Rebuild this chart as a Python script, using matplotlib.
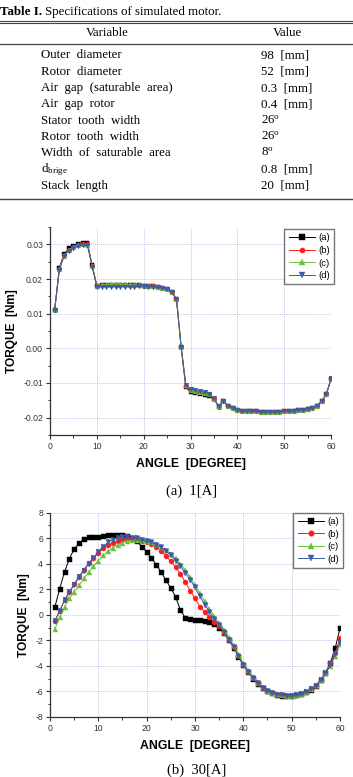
import numpy as np
import matplotlib
matplotlib.use("Agg")
import matplotlib.pyplot as plt
from matplotlib.ticker import MultipleLocator, FormatStrFormatter

plt.rcParams['axes.unicode_minus'] = False
plt.rcParams['mathtext.default'] = 'regular'

# ---- table data ----
table_title = "Specifications of simulated motor."
variables = ["Outer  diameter", "Rotor  diameter", "Air  gap  (saturable  area)",
             "Air  gap  rotor", "Stator  tooth  width", "Rotor  tooth  width",
             "Width  of  saturable  area", r"d$_{brige}$", "Stack  length"]
values = ["98  [mm]", "52  [mm]", "0.3  [mm]", "0.4  [mm]", r"26$^{o}$", r"26$^{o}$",
          r"8$^{o}$", "0.8  [mm]", "20  [mm]"]

# ---- torque curves ----
angle = np.arange(1, 61)
labels = ["(a)", "(b)", "(c)", "(d)"]

# 1[A]
t1_a = [0.0112, 0.0233, 0.0271, 0.0288, 0.0296, 0.0302, 0.0305, 0.0303, 0.0239, 0.0181,
        0.0182, 0.0182, 0.0183, 0.0183, 0.0183, 0.0183, 0.0183, 0.0182, 0.0182, 0.0181,
        0.0180, 0.0179, 0.0177, 0.0175, 0.0171, 0.0163, 0.0143, 0.0003, -0.0112, -0.0125,
        -0.0128, -0.0131, -0.0134, -0.0138, -0.0146, -0.0168, -0.0152, -0.0166, -0.0173, -0.0177,
        -0.0180, -0.0181, -0.0182, -0.0182, -0.0183, -0.0183, -0.0183, -0.0183, -0.0183, -0.0182,
        -0.0181, -0.0180, -0.0179, -0.0177, -0.0175, -0.0172, -0.0166, -0.0153, -0.0133, -0.0088]
t1_b = [0.0111, 0.0230, 0.0268, 0.0284, 0.0293, 0.0299, 0.0302, 0.0300, 0.0237, 0.0180,
        0.0182, 0.0183, 0.0184, 0.0184, 0.0184, 0.0184, 0.0183, 0.0183, 0.0182, 0.0181,
        0.0180, 0.0179, 0.0177, 0.0175, 0.0171, 0.0163, 0.0143, 0.0004, -0.0108, -0.0120,
        -0.0123, -0.0126, -0.0129, -0.0133, -0.0145, -0.0168, -0.0152, -0.0166, -0.0173, -0.0177,
        -0.0180, -0.0181, -0.0182, -0.0182, -0.0183, -0.0183, -0.0183, -0.0183, -0.0183, -0.0182,
        -0.0181, -0.0180, -0.0179, -0.0177, -0.0175, -0.0172, -0.0166, -0.0153, -0.0133, -0.0088]
t1_c = [0.0111, 0.0229, 0.0266, 0.0283, 0.0292, 0.0298, 0.0301, 0.0299, 0.0237, 0.0181,
        0.0183, 0.0184, 0.0185, 0.0186, 0.0186, 0.0185, 0.0184, 0.0183, 0.0183, 0.0182,
        0.0181, 0.0179, 0.0177, 0.0175, 0.0171, 0.0163, 0.0143, 0.0005, -0.0107, -0.0119,
        -0.0122, -0.0125, -0.0128, -0.0132, -0.0145, -0.0167, -0.0151, -0.0166, -0.0173, -0.0177,
        -0.0180, -0.0181, -0.0182, -0.0182, -0.0183, -0.0183, -0.0183, -0.0183, -0.0183, -0.0182,
        -0.0181, -0.0180, -0.0179, -0.0177, -0.0175, -0.0172, -0.0166, -0.0153, -0.0133, -0.0088]
t1_d = [0.0110, 0.0227, 0.0265, 0.0281, 0.0290, 0.0295, 0.0298, 0.0297, 0.0236, 0.0178,
        0.0178, 0.0178, 0.0178, 0.0178, 0.0178, 0.0178, 0.0178, 0.0178, 0.0179, 0.0179,
        0.0178, 0.0177, 0.0176, 0.0174, 0.0170, 0.0162, 0.0142, 0.0005, -0.0106, -0.0118,
        -0.0121, -0.0124, -0.0127, -0.0131, -0.0144, -0.0167, -0.0151, -0.0166, -0.0173, -0.0177,
        -0.0180, -0.0181, -0.0182, -0.0182, -0.0183, -0.0183, -0.0183, -0.0183, -0.0183, -0.0182,
        -0.0181, -0.0180, -0.0179, -0.0177, -0.0175, -0.0172, -0.0166, -0.0153, -0.0132, -0.0087]

# 30[A]
t30_a = [0.6, 2.05, 3.35, 4.4, 5.15, 5.6, 5.95, 6.1, 6.1, 6.12,
         6.18, 6.22, 6.27, 6.27, 6.25, 6.15, 6.0, 5.75, 5.35, 4.93,
         4.45, 3.92, 3.35, 2.7, 2.1, 1.4, 0.35, -0.22, -0.32, -0.38,
         -0.43, -0.48, -0.55, -0.7, -1.0, -1.45, -1.97, -2.57, -3.28, -3.94,
         -4.46, -4.99, -5.38, -5.72, -5.96, -6.14, -6.25, -6.32, -6.35, -6.35,
         -6.3, -6.22, -6.06, -5.85, -5.56, -5.12, -4.54, -3.75, -2.62, -1.05]
t30_b = [-0.5, 0.3, 1.15, 1.8, 2.4, 3.0, 3.55, 4.05, 4.45, 4.85,
         5.2, 5.45, 5.65, 5.82, 5.92, 5.97, 5.97, 5.92, 5.82, 5.72,
         5.58, 5.3, 5.0, 4.6, 4.2, 3.72, 3.2, 2.57, 1.9, 1.3,
         0.65, 0.2, -0.2, -0.55, -0.9, -1.4, -1.95, -2.55, -3.25, -3.92,
         -4.45, -4.98, -5.37, -5.71, -5.95, -6.13, -6.24, -6.31, -6.34, -6.34,
         -6.29, -6.2, -6.04, -5.83, -5.54, -5.12, -4.55, -3.8, -3.0, -1.8]
t30_c = [-1.13, -0.2, 0.6, 1.3, 1.8, 2.3, 2.85, 3.35, 3.8, 4.25,
         4.65, 4.98, 5.25, 5.48, 5.65, 5.78, 5.85, 5.88, 5.85, 5.78,
         5.68, 5.52, 5.32, 5.08, 4.78, 4.42, 4.0, 3.5, 2.95, 2.35,
         1.7, 1.05, 0.45, -0.1, -0.6, -1.15, -1.75, -2.4, -3.1, -3.8,
         -4.35, -4.9, -5.32, -5.67, -5.93, -6.11, -6.23, -6.3, -6.33, -6.33,
         -6.28, -6.19, -6.03, -5.82, -5.53, -5.12, -4.58, -4.0, -3.2, -2.3]
t30_d = [-0.52, 0.34, 1.13, 1.79, 2.36, 2.94, 3.46, 3.99, 4.46, 4.95,
         5.35, 5.68, 5.9, 6.02, 6.07, 6.07, 6.04, 5.98, 5.9, 5.8,
         5.68, 5.5, 5.28, 5.0, 4.65, 4.25, 3.8, 3.3, 2.75, 2.15,
         1.45, 0.8, 0.25, -0.3, -0.8, -1.35, -1.95, -2.55, -3.25, -3.92,
         -4.45, -4.98, -5.37, -5.71, -5.95, -6.13, -6.24, -6.31, -6.34, -6.34,
         -6.29, -6.2, -6.04, -5.83, -5.55, -5.13, -4.57, -3.95, -3.1, -2.1]

colors = ["#000000", "#ff1a1a", "#66c23a", "#3a5ca8"]
markers = ["s", "o", "^", "v"]

W, H = 353, 777
fig = plt.figure(figsize=(W / 100, H / 100), dpi=100)
serif = "Liberation Serif"
sans = "Liberation Sans"
tfs = 9.3


def fx(px):
    return px / W


def fy(py):
    return 1 - py / H


# ---- table ----
fig.text(fx(42), fy(12), "Table I.", family=serif, weight="bold", fontsize=tfs,
         va="center", ha="right")
fig.text(fx(45), fy(12), table_title, family=serif, fontsize=tfs, va="center")
for py, lw in [(21, 0.8), (23, 0.8), (43.5, 0.9), (198.5, 1.0)]:
    fig.add_artist(plt.Line2D([0, 1], [fy(py), fy(py)], color="#444444", lw=lw))
fig.text(fx(107), fy(33), "Variable", family=serif, fontsize=tfs, ha="center", va="center")
fig.text(fx(287), fy(33), "Value", family=serif, fontsize=tfs, ha="center", va="center")
for i, (var, val) in enumerate(zip(variables, values)):
    py = 55.5 + i * 16.3
    fig.text(fx(41), fy(py), var, family=serif, fontsize=tfs, va="center")
    fig.text(fx(261), fy(py), val, family=serif, fontsize=tfs, va="center")


def style_axes(ax, ymajor, yminor, fmt):
    ax.set_xlim(0, 60)
    ax.xaxis.set_major_locator(MultipleLocator(10))
    ax.xaxis.set_minor_locator(MultipleLocator(5))
    ax.yaxis.set_major_locator(MultipleLocator(ymajor))
    ax.yaxis.set_minor_locator(MultipleLocator(yminor))
    ax.yaxis.set_major_formatter(FormatStrFormatter(fmt))
    for s in ["top", "right"]:
        ax.spines[s].set_visible(False)
    for s in ["left", "bottom"]:
        ax.spines[s].set_color("#333333")
        ax.spines[s].set_linewidth(0.9)
    ax.tick_params(which="major", direction="out", length=3, width=0.8,
                   color="#333333", labelsize=6.2, labelcolor="#333333", pad=2)
    ax.tick_params(which="minor", direction="out", length=1.8, width=0.7, color="#333333")
    ax.grid(True, which="major", color="#c4c8e4", lw=0.7, ls=(0, (1, 1)))
    ax.set_axisbelow(True)
    for lab in ax.get_xticklabels() + ax.get_yticklabels():
        lab.set_family(sans)
    ax.set_ylabel("TORQUE  [Nm]", family=sans, weight="bold", fontsize=8.6, labelpad=4)
    ax.set_xlabel("ANGLE  [DEGREE]", family=sans, weight="bold", fontsize=8.8, labelpad=5)


def draw(ax, series, ms):
    for s, c, m, lab in zip(series, colors, markers, labels):
        ax.plot(angle, s, color=c, marker=m, ms=ms, lw=0.7, mec=c, mew=0.3, label=lab)


def add_legend(ax, anchor):
    leg = ax.legend(loc="upper right", bbox_to_anchor=anchor, fontsize=6.8,
                    frameon=True, fancybox=False, edgecolor="#555555", handlelength=2.8,
                    labelspacing=0.38, borderpad=0.45, handletextpad=0.35, borderaxespad=0,
                    markerscale=1.1)
    leg.get_frame().set_linewidth(1.0)
    for t in leg.get_texts():
        t.set_family(sans)
    return leg


# ---- 1[A] ----
ax1 = fig.add_axes([fx(50), fy(435), (331 - 50) / W, (435 - 227) / H])
draw(ax1, [t1_a, t1_b, t1_c, t1_d], 3.4)
ax1.set_ylim(-0.025, 0.035)
style_axes(ax1, 0.01, 0.005, "%.2f")
add_legend(ax1, (1.012, 0.99))
fig.text(fx(192), fy(491), "(a)  1[A]", family=serif, fontsize=10.5, ha="center", va="center")

# ---- 30[A] ----
ax2 = fig.add_axes([fx(50), fy(717), (340 - 50) / W, (717 - 512.7) / H])
draw(ax2, [t30_a, t30_b, t30_c, t30_d], 3.6)
ax2.set_ylim(-8, 8)
style_axes(ax2, 2, 1, "%d")
add_legend(ax2, (1.012, 1.0))
fig.text(fx(197), fy(770), "(b)  30[A]", family=serif, fontsize=10.5, ha="center", va="center")

fig.savefig("out.png", dpi=100)
